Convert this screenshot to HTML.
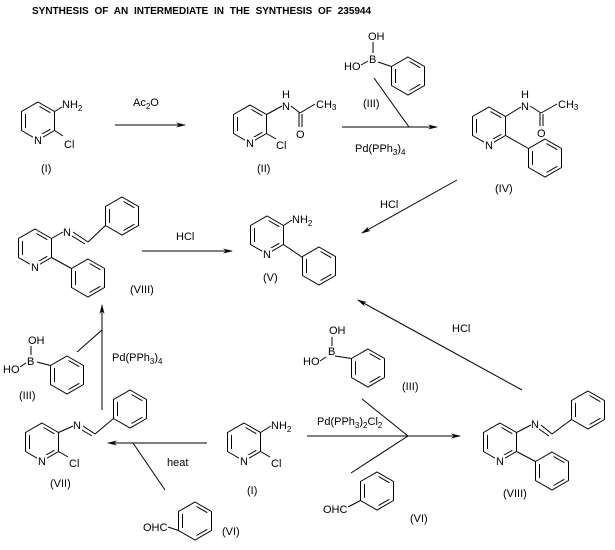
<!DOCTYPE html>
<html><head><meta charset="utf-8"><style>
html,body{margin:0;padding:0;background:#fff;}
svg{display:block;}
text{font-family:"Liberation Sans",sans-serif;font-size:11px;fill:#000;}
.s{font-size:8px;}
</style></head><body>
<svg width="615" height="550" viewBox="0 0 615 550" xmlns="http://www.w3.org/2000/svg">
<defs>
<marker id="ah" markerWidth="10" markerHeight="6" refX="9" refY="3" orient="auto" markerUnits="userSpaceOnUse">
<path d="M0,0.5 L10,3 L0,5.5 L3,3 Z" fill="#000"/></marker>
<g id="ring" fill="none" stroke="#000" stroke-width="1">
<polygon points="0,-19 16.5,-9.5 16.5,9.5 0,19 -16.5,9.5 -16.5,-9.5"/>
<line x1="-12.5" y1="-7" x2="-12.5" y2="7"/>
<line x1="1.5" y1="-14.5" x2="12.3" y2="-8.3"/>
<line x1="12.3" y1="8.3" x2="1.5" y2="14.5"/>
</g>
<g id="py">
<use href="#ring"/>
<rect x="-5" y="13" width="10" height="11" fill="#fff"/>
<text x="-4" y="23">N</text>
</g>
</defs>
<g stroke="#000" stroke-width="1" fill="none">
<line x1="115" y1="125" x2="185" y2="125" marker-end="url(#ah)"/>
<line x1="342" y1="127" x2="437" y2="127" marker-end="url(#ah)"/>
<line x1="374" y1="78" x2="409" y2="127"/>
<line x1="457" y1="180" x2="362" y2="233" marker-end="url(#ah)"/>
<line x1="142" y1="251" x2="232" y2="251" marker-end="url(#ah)"/>
<line x1="102" y1="410" x2="102" y2="305" marker-end="url(#ah)"/>
<line x1="77" y1="352" x2="102" y2="330"/>
<line x1="207" y1="443" x2="108" y2="443" marker-end="url(#ah)"/>
<line x1="133" y1="443" x2="165" y2="490"/>
<line x1="522" y1="390" x2="358" y2="300" marker-end="url(#ah)"/>
<line x1="307" y1="436" x2="460" y2="436" marker-end="url(#ah)"/>
<line x1="362" y1="399" x2="408" y2="436"/>
<line x1="408" y1="436" x2="351" y2="473"/>
<line x1="54.5" y1="111.5" x2="62" y2="107"/>
<line x1="54.5" y1="130.5" x2="63" y2="136"/>
<line x1="266.5" y1="114.5" x2="282" y2="106"/>
<line x1="291" y1="106" x2="300" y2="113"/>
<line x1="300" y1="113" x2="315" y2="104"/>
<line x1="299" y1="113" x2="299" y2="127"/><line x1="302" y1="114" x2="302" y2="127"/>
<line x1="266.5" y1="133.5" x2="276" y2="139"/>
<line x1="378" y1="62" x2="391.5" y2="66.5"/>
<line x1="373" y1="42" x2="373" y2="53"/>
<line x1="361" y1="65" x2="368" y2="61"/>
<line x1="505.5" y1="116.5" x2="521" y2="107"/>
<line x1="530" y1="106" x2="541" y2="113"/>
<line x1="541" y1="113" x2="557" y2="104"/>
<line x1="540" y1="113" x2="540" y2="126"/><line x1="543" y1="114" x2="543" y2="126"/>
<line x1="505.5" y1="135.5" x2="528.5" y2="148.5"/>
<line x1="51.5" y1="238.5" x2="63" y2="232"/>
<line x1="73" y1="232" x2="88" y2="242"/><line x1="72" y1="236" x2="85" y2="244"/>
<line x1="88" y1="242" x2="105.5" y2="225.5"/>
<line x1="51.5" y1="257.5" x2="71.5" y2="268.5"/>
<line x1="283.5" y1="225.5" x2="292" y2="220"/>
<line x1="283.5" y1="244.5" x2="302.5" y2="257.5"/>
<line x1="37" y1="362" x2="50.5" y2="365.5"/>
<line x1="31" y1="346" x2="31" y2="355"/>
<line x1="20" y1="367" x2="26" y2="363"/>
<line x1="58.5" y1="432.5" x2="73" y2="426"/>
<line x1="83" y1="426" x2="95" y2="434"/><line x1="82" y1="430" x2="92" y2="436"/>
<line x1="95" y1="434" x2="113.5" y2="418.5"/>
<line x1="58.5" y1="451.5" x2="68" y2="457"/>
<line x1="260.5" y1="432.5" x2="271" y2="426"/>
<line x1="260.5" y1="451.5" x2="270" y2="457"/>
<line x1="178.5" y1="530.5" x2="168" y2="527"/>
<line x1="335" y1="356" x2="351.5" y2="358.5"/>
<line x1="332" y1="337" x2="332" y2="346"/>
<line x1="320" y1="361" x2="326" y2="357"/>
<line x1="360.5" y1="500.5" x2="348" y2="507"/>
<line x1="516.5" y1="432.5" x2="531" y2="425"/>
<line x1="541" y1="425" x2="552" y2="434"/><line x1="539" y1="429" x2="549" y2="436"/>
<line x1="552" y1="434" x2="571.5" y2="419.5"/>
<line x1="516.5" y1="451.5" x2="535.5" y2="461.5"/>
</g>
<use href="#py" x="38" y="121"/>
<use href="#py" x="250" y="124"/>
<use href="#ring" x="408" y="76"/>
<use href="#py" x="489" y="126"/>
<use href="#ring" x="545" y="158"/>
<use href="#py" x="35" y="248"/>
<use href="#ring" x="122" y="216"/>
<use href="#ring" x="88" y="278"/>
<use href="#py" x="267" y="235"/>
<use href="#ring" x="319" y="266"/>
<use href="#ring" x="67" y="375"/>
<use href="#py" x="42" y="442"/>
<use href="#ring" x="130" y="409"/>
<use href="#py" x="244" y="442"/>
<use href="#ring" x="195" y="521"/>
<use href="#ring" x="368" y="368"/>
<use href="#ring" x="377" y="491"/>
<use href="#py" x="500" y="442"/>
<use href="#ring" x="588" y="410"/>
<use href="#ring" x="552" y="471"/>
<text x="32" y="14" style="font-weight:bold;font-size:10px;word-spacing:3px">SYNTHESIS OF AN INTERMEDIATE IN THE SYNTHESIS OF 235944</text>
<text x="62" y="108">NH<tspan class="s" dy="3">2</tspan></text>
<text x="64" y="148">Cl</text>
<text x="41" y="172">(I)</text>
<text x="133" y="106">Ac<tspan class="s" dy="3">2</tspan><tspan dy="-3">O</tspan></text>
<text x="282" y="110">N</text><text x="282" y="98">H</text>
<text x="296" y="138">O</text>
<text x="316" y="108">CH<tspan class="s" dy="2">3</tspan></text>
<text x="276" y="149">Cl</text>
<text x="257" y="172">(II)</text>
<text x="368" y="40">OH</text>
<text x="369" y="63">B</text>
<text x="344" y="70">HO</text>
<text x="363" y="107">(III)</text>
<text x="355" y="152">Pd(PPh<tspan class="s" dy="3">3</tspan><tspan dy="-3">)</tspan><tspan class="s" dy="3">4</tspan></text>
<text x="521" y="110">N</text><text x="521" y="98">H</text>
<text x="537" y="137">O</text>
<text x="558" y="108">CH<tspan class="s" dy="2">3</tspan></text>
<text x="495" y="192">(IV)</text>
<text x="380" y="208">HCl</text>
<text x="63" y="236">N</text>
<text x="130" y="293">(VIII)</text>
<text x="176" y="240">HCl</text>
<text x="292" y="223">NH<tspan class="s" dy="3">2</tspan></text>
<text x="263" y="281">(V)</text>
<text x="28" y="344">OH</text>
<text x="27" y="365">B</text>
<text x="3" y="373">HO</text>
<text x="19" y="399">(III)</text>
<text x="112" y="361">Pd(PPh<tspan class="s" dy="3">3</tspan><tspan dy="-3">)</tspan><tspan class="s" dy="3">4</tspan></text>
<text x="73" y="429">N</text>
<text x="69" y="467">Cl</text>
<text x="50" y="487">(VII)</text>
<text x="167" y="466">heat</text>
<text x="271" y="429">NH<tspan class="s" dy="3">2</tspan></text>
<text x="271" y="467">Cl</text>
<text x="247" y="494">(I)</text>
<text x="143" y="531">OHC</text>
<text x="222" y="535">(VI)</text>
<text x="452" y="332">HCl</text>
<text x="329" y="334">OH</text>
<text x="328" y="355">B</text>
<text x="303" y="365">HO</text>
<text x="402" y="390">(III)</text>
<text x="317" y="425">Pd(PPh<tspan class="s" dy="3">3</tspan><tspan dy="-3">)</tspan><tspan class="s" dy="3">2</tspan><tspan dy="-3">Cl</tspan><tspan class="s" dy="3">2</tspan></text>
<text x="323" y="513">OHC</text>
<text x="410" y="522">(VI)</text>
<text x="531" y="428">N</text>
<text x="503" y="497">(VIII)</text>
</svg>
</body></html>
